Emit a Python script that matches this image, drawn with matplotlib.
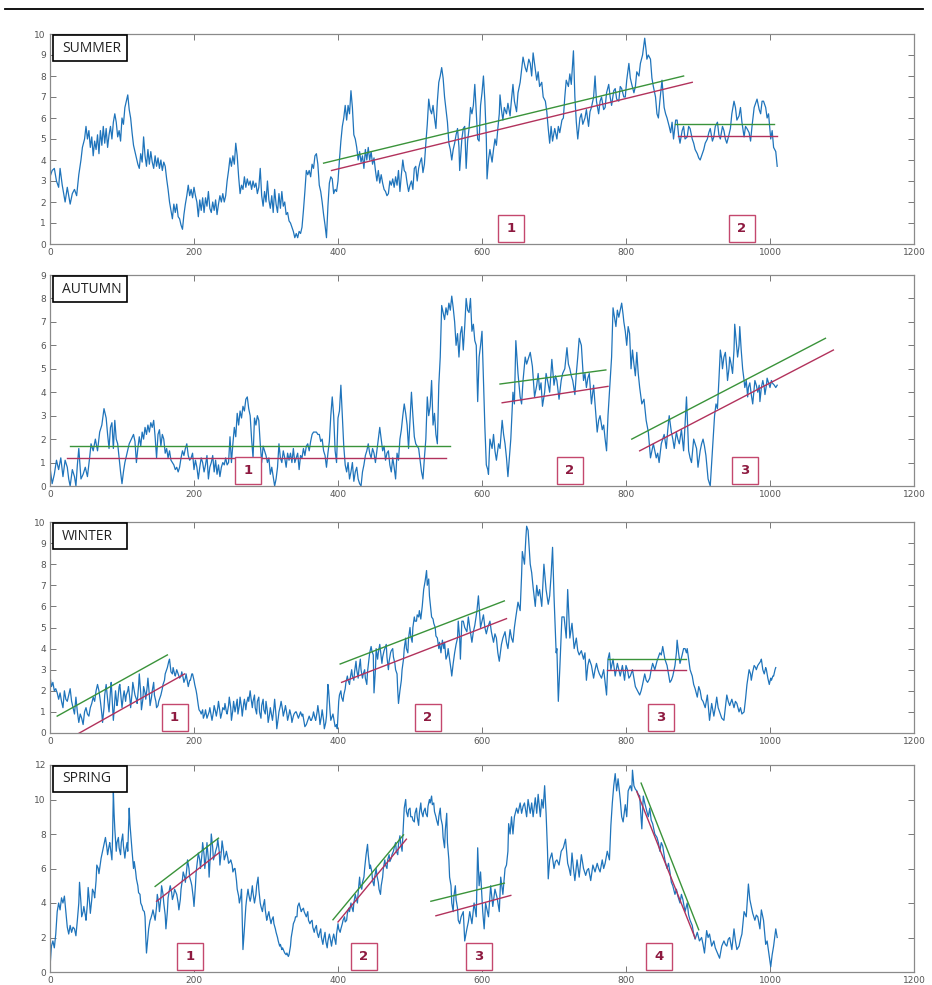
import matplotlib
matplotlib.use("Agg")
import matplotlib.pyplot as plt
from matplotlib.patches import Rectangle
from matplotlib.lines import Line2D
from matplotlib.transforms import blended_transform_factory

# values, (x, y) pairs
summer = [(0,3.2),(3,3.5),(6,3.6),(9,3.0),(12,2.7),(14,3.6),(17,2.8),(21,2.0),(24,2.7),(28,1.9),(31,2.4),(34,2.6),(37,2.3),(40,3.3),(43,4.0),(45,4.6),(48,5.0),(50,5.6),(52,5.0),(54,5.4),(56,4.6),(58,5.1),(60,4.2),(62,4.9),(64,4.5),(66,5.2),(68,4.3),(70,5.4),(72,4.7),(74,5.6),(76,4.8),(78,5.5),(80,4.6),(82,5.2),(84,5.6),(86,5.0),(88,5.8),(90,6.2),(92,5.8),(94,5.1),(96,5.4),(98,4.9),(100,6.0),(102,5.7),(104,6.5),(106,6.8),(108,7.1),(110,6.4),(112,6.0),(114,5.3),(116,4.7),(118,4.4),(120,4.1),(122,3.8),(124,3.6),(126,4.3),(128,3.9),(130,5.1),(132,4.2),(134,3.7),(136,4.5),(138,3.8),(140,4.4),(142,3.9),(144,3.6),(146,4.2),(148,3.7),(150,4.1),(152,3.6),(154,4.0),(156,3.5),(158,3.9),(160,3.7),(162,3.1),(164,2.6),(166,2.0),(168,1.6),(170,1.2),(172,1.9),(174,1.5),(176,1.9),(178,1.3),(180,1.2),(182,0.9),(184,0.7),(186,1.4),(188,1.9),(190,2.3),(192,2.8),(194,2.3),(196,2.6),(198,2.2),(200,2.7),(202,2.3),(204,2.0),(206,1.3),(208,2.1),(210,1.6),(212,2.2),(214,1.5),(216,2.2),(218,1.8),(220,2.5),(222,1.7),(224,1.5),(226,2.0),(228,1.6),(230,2.1),(232,1.4),(234,1.9),(236,2.3),(238,2.0),(240,2.4),(242,2.0),(244,2.3),(246,3.0),(248,3.5),(250,4.1),(252,3.7),(254,4.2),(256,3.8),(258,4.8),(260,4.2),(262,3.2),(264,2.4),(266,2.8),(268,2.6),(270,3.2),(272,2.7),(274,3.1),(276,2.8),(278,3.0),(280,2.6),(282,3.0),(284,2.7),(286,2.9),(288,2.4),(290,2.7),(292,3.6),(294,2.3),(296,1.8),(298,2.5),(300,2.0),(302,3.0),(304,2.1),(306,1.7),(308,2.3),(310,1.5),(312,2.6),(314,1.9),(316,1.5),(318,2.4),(320,1.7),(322,2.5),(324,1.8),(326,2.0),(328,1.4),(330,1.5),(332,1.1),(334,1.0),(336,0.8),(338,0.6),(340,0.3),(342,0.5),(344,0.3),(346,0.6),(348,0.5),(350,0.8),(352,1.6),(354,2.5),(356,3.5),(358,3.3),(360,3.5),(362,3.2),(364,3.8),(366,3.6),(368,4.2),(370,4.3),(372,3.8),(374,2.8),(376,2.5),(378,2.0),(380,1.4),(382,0.9),(384,0.3),(386,1.8),(388,2.9),(390,3.2),(392,3.1),(394,2.4),(396,2.6),(398,2.5),(400,3.0),(402,4.0),(404,4.9),(406,5.6),(408,6.0),(410,6.6),(412,5.9),(414,6.6),(416,6.2),(418,7.3),(420,6.5),(422,5.2),(424,5.0),(426,4.6),(428,4.0),(430,4.4),(432,3.9),(434,4.2),(436,3.6),(438,4.5),(440,4.0),(442,4.6),(444,4.0),(446,4.4),(448,3.8),(450,4.1),(452,3.5),(454,3.0),(456,3.5),(458,2.9),(460,3.3),(462,2.9),(464,2.6),(466,2.5),(468,2.3),(470,2.4),(472,3.0),(474,2.8),(476,3.1),(478,2.7),(480,3.2),(482,2.8),(484,3.5),(486,2.5),(488,3.3),(490,4.0),(492,3.5),(494,3.4),(496,2.9),(498,2.5),(500,2.8),(502,3.0),(504,2.6),(506,3.6),(508,3.7),(510,3.0),(512,3.6),(514,3.9),(516,4.1),(518,3.4),(520,3.8),(522,4.8),(524,5.7),(526,6.9),(528,6.4),(530,6.2),(532,6.6),(534,6.0),(536,5.5),(538,6.8),(540,7.7),(542,8.0),(544,8.4),(546,7.9),(548,7.0),(550,6.4),(552,5.8),(554,4.8),(556,4.5),(558,4.0),(560,4.5),(562,4.8),(564,5.2),(566,5.5),(568,4.6),(569,3.5),(572,5.0),(574,5.5),(576,5.6),(578,3.6),(580,4.9),(582,5.5),(584,6.5),(586,6.2),(588,6.6),(590,7.6),(592,6.3),(594,5.0),(596,4.9),(598,6.6),(600,7.2),(602,8.0),(604,6.8),(606,5.0),(607,3.1),(609,4.0),(611,4.5),(614,3.9),(616,4.5),(618,5.0),(620,4.7),(622,5.5),(624,6.2),(625,7.1),(627,6.4),(629,5.9),(631,6.5),(634,6.2),(636,6.7),(639,6.1),(641,6.9),(643,7.6),(645,6.8),(648,6.3),(650,7.2),(653,7.7),(655,8.3),(657,8.9),(660,8.4),(662,8.2),(665,8.8),(667,8.6),(669,8.0),(671,9.1),(674,8.3),(676,7.8),(678,8.2),(680,7.5),(683,7.7),(685,7.0),(688,6.8),(690,6.3),(692,5.5),(694,4.8),(696,5.6),(698,4.9),(701,5.5),(704,5.0),(706,5.6),(708,5.3),(711,5.9),(713,6.0),(715,7.0),(717,7.8),(720,7.5),(722,8.1),(724,7.6),(727,9.2),(729,7.0),(731,5.8),(733,5.0),(736,6.0),(738,6.2),(740,5.7),(743,6.0),(745,6.4),(748,5.6),(750,6.3),(752,6.5),(755,7.0),(757,8.0),(759,6.8),(762,6.2),(764,6.8),(766,7.0),(769,6.4),(771,6.5),(773,7.2),(776,7.6),(778,7.0),(780,6.6),(783,7.3),(785,7.4),(787,6.9),(790,6.8),(792,7.5),(794,7.4),(797,7.0),(799,7.0),(801,7.8),(804,8.6),(806,7.9),(808,7.6),(811,7.2),(813,7.5),(815,8.2),(818,8.0),(820,8.6),(823,9.0),(826,9.8),(828,9.2),(829,8.8),(831,9.0),(834,8.8),(836,7.9),(838,7.5),(841,7.0),(843,6.2),(845,6.0),(847,6.8),(850,7.8),(853,6.5),(855,6.2),(857,6.0),(860,5.6),(862,5.3),(864,5.8),(866,5.0),(869,5.9),(871,5.9),(873,5.2),(875,4.8),(878,5.4),(880,5.6),(882,5.0),(885,5.1),(887,5.6),(889,5.5),(892,5.0),(894,4.8),(896,4.5),(899,4.3),(901,4.1),(903,4.0),(906,4.3),(908,4.5),(910,4.8),(913,5.0),(915,5.3),(917,5.5),(920,4.9),(922,5.1),(924,5.6),(927,5.8),(929,5.2),(931,5.0),(934,5.6),(936,5.4),(938,5.0),(940,4.8),(943,5.2),(945,5.5),(947,6.2),(950,6.8),(952,6.5),(954,5.9),(957,6.1),(959,6.5),(961,5.8),(964,5.1),(966,5.6),(968,5.5),(971,5.3),(973,4.9),(975,5.6),(978,6.5),(980,6.7),(982,6.9),(985,6.4),(987,6.2),(989,6.8),(991,6.8),(994,6.5),(996,6.0),(998,6.2),(1001,5.0),(1003,5.4),(1005,4.6),(1008,4.4),(1010,3.7)]

autumn = [(0,0.8),(3,0.1),(6,0.5),(9,1.1),(12,0.7),(15,1.2),(18,0.4),(21,1.1),(24,0.8),(26,0.3),(28,0.0),(31,0.7),(34,0.4),(36,0.0),(38,0.9),(40,1.6),(43,0.3),(46,0.5),(49,0.8),(52,0.4),(55,1.2),(57,1.8),(60,1.5),(63,2.0),(66,1.5),(69,2.3),(72,2.6),(75,3.3),(78,2.9),(80,2.2),(82,1.6),(84,2.5),(86,2.7),(88,1.6),(90,2.8),(92,2.0),(94,1.8),(96,1.2),(98,0.6),(100,0.1),(102,0.6),(104,1.0),(107,1.4),(110,1.8),(113,2.0),(116,2.2),(118,1.9),(120,1.0),(122,1.6),(124,2.1),(126,1.7),(128,2.3),(130,2.0),(132,2.5),(134,2.2),(136,2.6),(138,2.3),(140,2.7),(142,2.5),(144,2.8),(146,2.1),(148,1.2),(150,2.2),(152,2.4),(154,1.7),(156,2.2),(158,2.0),(160,1.4),(162,1.6),(164,1.2),(166,1.5),(168,1.1),(170,1.0),(172,0.9),(174,0.7),(176,0.8),(178,0.6),(180,0.8),(182,1.2),(184,1.5),(186,1.3),(188,1.6),(190,1.8),(192,1.3),(194,1.1),(196,1.2),(198,1.4),(200,0.7),(202,1.1),(204,0.8),(206,0.3),(208,0.8),(210,1.2),(212,1.0),(214,0.6),(216,0.9),(218,1.3),(220,0.3),(222,0.8),(224,1.0),(226,1.3),(228,0.6),(230,1.1),(232,0.5),(234,0.9),(236,0.4),(238,0.8),(240,1.0),(242,0.9),(244,1.2),(246,0.9),(248,1.0),(250,2.1),(252,1.0),(254,1.8),(256,2.5),(258,2.1),(260,3.1),(262,2.6),(264,3.2),(266,2.9),(268,3.4),(270,3.2),(272,3.7),(274,3.8),(276,3.3),(278,3.0),(280,2.0),(282,1.2),(284,2.9),(286,2.6),(288,3.0),(290,2.8),(292,1.8),(294,1.0),(296,1.7),(298,1.5),(300,1.3),(302,1.0),(304,1.2),(306,0.5),(308,0.8),(310,0.4),(312,0.0),(314,0.3),(316,0.8),(318,1.8),(320,1.2),(322,1.0),(324,1.5),(326,1.2),(328,0.8),(330,1.4),(332,1.1),(334,1.4),(336,1.0),(338,1.6),(340,1.0),(342,1.2),(344,1.4),(346,0.7),(348,1.3),(350,1.2),(352,1.6),(354,1.3),(356,1.7),(358,1.8),(360,1.5),(362,1.9),(364,2.2),(366,2.3),(368,2.3),(370,2.3),(372,2.2),(374,2.2),(376,1.9),(378,2.0),(380,1.5),(382,1.3),(384,0.8),(386,1.4),(388,1.9),(390,3.0),(392,3.8),(394,3.0),(396,1.5),(398,1.0),(400,2.9),(402,3.2),(404,4.3),(406,3.0),(408,1.7),(410,0.9),(412,0.6),(414,1.0),(416,0.3),(418,0.6),(420,1.0),(422,0.2),(424,0.6),(426,0.8),(428,0.3),(430,0.1),(432,0.0),(434,0.6),(436,0.9),(438,1.3),(440,1.5),(442,1.8),(444,1.4),(446,1.2),(448,1.6),(450,1.4),(452,1.0),(454,1.5),(456,2.0),(458,2.5),(460,2.0),(462,1.5),(464,1.7),(466,1.1),(468,1.4),(470,1.5),(472,0.9),(474,0.6),(476,1.2),(478,0.8),(480,0.3),(482,1.4),(484,1.1),(486,2.0),(488,2.4),(490,3.0),(492,3.5),(494,3.1),(496,2.6),(498,1.6),(500,2.8),(502,4.0),(504,3.0),(506,2.1),(508,1.8),(510,1.7),(512,1.6),(514,1.1),(516,0.6),(518,0.3),(520,1.2),(522,2.0),(524,3.8),(526,3.0),(528,3.4),(530,4.5),(532,2.6),(534,3.1),(536,2.2),(538,1.8),(540,4.3),(542,5.5),(544,7.7),(546,7.4),(548,7.1),(550,7.6),(552,7.3),(554,7.8),(556,7.5),(558,8.1),(560,7.6),(562,7.0),(564,6.0),(566,6.5),(568,5.5),(570,6.5),(572,6.8),(574,5.8),(576,6.8),(578,8.0),(580,7.5),(582,7.4),(584,8.0),(586,6.6),(588,6.9),(590,6.2),(592,6.0),(594,3.6),(596,5.5),(598,6.0),(600,6.6),(602,4.5),(604,2.5),(606,0.9),(608,0.7),(609,0.5),(611,2.0),(614,1.6),(616,2.2),(618,1.5),(620,1.1),(623,1.8),(625,1.6),(628,2.8),(630,2.2),(632,1.8),(634,1.2),(636,0.4),(638,1.2),(640,2.0),(643,4.0),(645,3.5),(647,6.2),(650,4.8),(653,3.8),(655,3.5),(657,4.5),(660,5.5),(662,5.2),(664,5.4),(667,5.7),(670,5.1),(673,3.8),(676,4.3),(678,4.8),(680,4.1),(682,4.4),(684,3.4),(687,4.0),(689,4.8),(691,4.5),(694,4.0),(697,5.4),(700,4.3),(702,4.7),(704,4.5),(707,3.7),(710,4.5),(712,4.8),(715,5.0),(718,5.9),(720,5.2),(722,5.0),(724,4.7),(726,4.5),(729,3.9),(731,4.8),(733,5.5),(735,6.3),(738,6.0),(740,5.0),(741,4.5),(743,4.8),(745,4.2),(747,4.6),(749,4.8),(752,3.5),(755,4.3),(757,3.5),(760,2.3),(762,2.8),(764,3.0),(767,2.4),(769,2.6),(771,2.0),(773,1.5),(775,3.0),(778,4.5),(780,5.5),(782,7.6),(784,7.2),(786,6.8),(788,7.5),(790,7.2),(792,7.5),(794,7.8),(796,7.3),(797,7.0),(799,6.6),(801,6.0),(803,6.8),(805,6.5),(807,5.0),(809,5.8),(811,5.2),(813,4.7),(815,5.7),(817,4.8),(819,4.2),(822,3.5),(825,3.7),(828,2.8),(831,2.3),(834,1.2),(836,1.5),(838,1.8),(840,1.5),(842,1.2),(844,1.4),(846,1.0),(849,1.8),(851,2.0),(853,2.2),(856,1.6),(858,2.4),(860,3.0),(863,2.3),(865,2.0),(867,1.6),(870,2.3),(872,2.0),(874,1.8),(877,2.4),(880,1.5),(882,2.6),(884,3.8),(887,1.5),(889,1.2),(891,1.0),(894,2.0),(896,1.8),(898,1.6),(900,0.8),(903,1.5),(905,1.8),(907,2.0),(909,1.7),(911,1.3),(914,0.3),(917,0.0),(920,1.5),(923,3.0),(925,3.5),(927,3.3),(929,4.5),(931,5.8),(933,5.4),(934,5.0),(936,5.5),(938,5.7),(940,5.0),(941,4.5),(943,5.0),(944,5.5),(946,5.2),(948,4.8),(950,5.8),(951,6.9),(953,6.2),(955,5.5),(957,6.0),(958,6.8),(960,5.8),(962,5.0),(964,4.5),(965,4.2),(967,4.5),(969,3.8),(970,4.2),(972,4.4),(974,3.9),(976,3.5),(978,4.2),(979,4.5),(981,4.3),(983,4.0),(985,4.3),(986,3.6),(988,4.2),(990,4.5),(992,4.2),(993,3.9),(995,4.3),(996,4.6),(998,4.4),(1000,4.2),(1002,4.5),(1003,4.4),(1006,4.3),(1008,4.2),(1010,4.3)]

winter = [(0,2.7),(2,2.2),(4,2.4),(6,2.0),(8,2.1),(10,1.9),(12,1.6),(14,1.9),(16,1.5),(18,1.2),(20,2.0),(22,1.6),(24,1.5),(26,1.8),(28,2.1),(30,1.5),(32,1.2),(34,0.9),(36,1.7),(38,1.0),(40,0.5),(42,0.9),(44,0.7),(46,0.4),(48,1.0),(50,1.2),(52,0.9),(54,0.8),(56,1.2),(58,1.4),(60,1.7),(62,1.5),(64,2.0),(66,2.3),(68,2.0),(70,1.5),(72,0.9),(73,0.5),(75,1.2),(76,1.8),(78,2.3),(80,1.6),(82,1.0),(84,2.0),(85,2.4),(87,1.2),(88,0.6),(90,1.5),(91,2.0),(93,1.3),(94,1.5),(96,2.2),(97,2.3),(99,1.6),(100,1.2),(102,1.8),(103,2.0),(105,1.5),(106,1.8),(108,2.0),(109,2.2),(111,1.6),(112,1.2),(114,1.9),(115,2.4),(117,2.0),(118,1.8),(120,1.6),(121,1.4),(123,2.2),(124,2.8),(126,1.9),(127,1.1),(129,1.6),(130,2.2),(132,1.9),(133,1.6),(135,2.2),(136,2.6),(138,1.8),(139,1.3),(141,1.7),(142,2.0),(144,2.4),(145,1.8),(147,1.5),(148,1.2),(150,1.3),(151,1.5),(153,1.7),(154,1.8),(156,2.1),(157,2.3),(159,2.5),(160,2.8),(162,3.0),(163,3.1),(165,3.4),(166,3.5),(168,2.9),(170,2.8),(171,3.1),(173,2.8),(174,2.7),(176,3.0),(177,2.9),(179,2.7),(180,2.6),(182,2.7),(183,2.9),(185,2.6),(186,2.4),(188,2.6),(189,2.8),(191,2.4),(192,2.2),(194,2.5),(195,2.5),(197,2.8),(198,2.8),(200,2.5),(201,2.3),(203,2.0),(204,1.8),(206,1.3),(207,1.1),(209,1.0),(210,0.9),(212,1.1),(213,0.7),(215,0.9),(216,1.1),(218,0.7),(219,0.8),(221,1.0),(222,1.2),(224,0.8),(225,0.6),(227,1.0),(228,1.3),(230,1.0),(231,0.8),(233,1.2),(234,1.5),(236,1.0),(237,0.7),(239,1.0),(240,1.2),(242,1.1),(243,1.4),(245,1.0),(246,0.9),(248,1.3),(249,1.7),(251,1.2),(252,0.6),(254,1.1),(255,1.5),(257,1.0),(258,1.2),(260,1.6),(261,0.9),(263,1.3),(264,1.7),(266,1.2),(267,0.8),(269,1.4),(270,1.6),(272,1.1),(273,1.4),(275,1.7),(276,1.5),(278,2.0),(279,1.7),(281,1.2),(282,1.5),(284,1.8),(285,1.2),(287,0.9),(288,1.5),(290,1.7),(291,1.0),(293,0.7),(294,1.3),(296,1.6),(297,1.1),(299,0.9),(300,1.5),(302,1.0),(303,0.5),(305,0.9),(306,1.2),(308,0.8),(309,0.6),(311,1.2),(312,1.6),(314,0.8),(315,0.2),(317,0.7),(318,1.0),(320,1.3),(321,1.5),(323,1.1),(324,0.8),(326,1.1),(327,1.3),(329,0.9),(330,0.6),(332,0.9),(333,1.1),(335,0.8),(336,0.5),(338,0.8),(339,0.9),(341,1.0),(342,1.0),(344,0.8),(345,0.7),(347,0.9),(348,1.0),(350,0.8),(351,0.9),(353,0.5),(354,0.3),(356,0.4),(357,0.5),(359,0.7),(360,0.8),(362,0.6),(363,0.6),(365,0.8),(366,1.0),(368,0.7),(369,0.6),(371,1.0),(372,1.3),(374,0.8),(375,0.4),(377,0.8),(378,1.1),(380,0.6),(381,0.2),(383,0.5),(384,0.8),(386,2.3),(387,2.0),(389,1.0),(390,0.6),(392,0.8),(393,0.9),(395,0.5),(396,0.3),(398,0.4),(399,0.2),(401,1.5),(402,1.8),(404,2.0),(405,1.7),(407,1.5),(408,1.8),(410,2.1),(411,2.4),(413,2.7),(414,2.5),(416,2.3),(417,2.6),(419,3.0),(420,2.7),(422,2.5),(423,2.9),(425,3.4),(426,3.0),(428,2.6),(429,3.0),(431,3.5),(432,3.0),(434,2.6),(435,2.8),(437,3.0),(438,2.6),(440,2.3),(441,2.9),(443,3.5),(444,3.8),(446,4.1),(447,3.9),(449,3.7),(450,1.9),(452,3.0),(453,4.0),(455,3.5),(456,3.8),(458,4.2),(459,3.9),(461,3.3),(462,3.6),(464,3.9),(465,4.0),(467,4.2),(468,3.6),(470,3.0),(471,3.4),(473,3.8),(474,3.9),(476,4.0),(477,3.6),(479,3.3),(480,3.0),(482,2.8),(483,2.0),(484,1.4),(486,2.0),(488,2.5),(489,3.0),(491,3.5),(492,4.0),(494,4.5),(495,4.0),(497,3.8),(498,4.5),(500,5.0),(501,4.6),(503,4.3),(504,5.0),(506,5.5),(507,5.3),(509,5.3),(510,5.6),(512,5.5),(513,5.8),(515,5.4),(517,6.0),(519,6.8),(521,7.2),(523,7.7),(524,7.0),(526,7.3),(527,6.5),(529,5.8),(530,5.5),(532,5.4),(533,5.2),(535,5.0),(536,4.6),(538,4.5),(540,4.0),(541,4.3),(543,3.8),(545,4.4),(547,4.0),(548,4.3),(550,3.5),(552,3.7),(553,4.0),(555,3.5),(557,3.0),(558,2.7),(560,3.3),(562,3.8),(564,4.2),(566,4.5),(567,5.3),(569,4.5),(570,3.5),(572,5.3),(574,5.3),(576,5.0),(579,4.8),(581,5.5),(583,5.0),(586,4.3),(588,4.8),(590,5.1),(593,5.8),(595,6.5),(598,5.0),(600,5.3),(602,5.6),(604,5.0),(606,4.7),(608,5.0),(611,5.3),(613,4.8),(616,4.3),(618,4.7),(620,4.5),(622,3.8),(624,3.4),(627,4.2),(629,4.5),(632,4.8),(634,4.3),(636,4.0),(639,4.9),(641,4.5),(643,4.3),(645,5.0),(647,5.5),(650,6.2),(653,5.8),(655,7.5),(656,8.6),(659,8.0),(661,9.3),(662,9.8),(664,9.6),(667,8.0),(669,7.6),(671,6.9),(674,6.0),(676,7.0),(678,6.5),(680,6.8),(683,6.0),(686,8.0),(689,6.8),(692,6.1),(694,6.5),(696,7.5),(698,8.8),(700,6.5),(703,3.8),(704,4.0),(706,1.5),(708,3.0),(711,5.5),(714,5.5),(717,4.5),(719,6.8),(722,4.5),(725,5.2),(728,4.0),(731,4.5),(733,3.9),(735,3.7),(738,3.9),(741,3.5),(743,3.8),(745,2.5),(747,3.2),(749,3.5),(752,3.2),(755,2.6),(757,3.0),(759,3.3),(761,3.0),(763,2.8),(766,2.6),(769,3.0),(771,2.4),(773,1.8),(775,3.5),(777,3.8),(779,3.0),(782,3.5),(785,2.7),(788,3.3),(790,3.0),(792,2.7),(795,3.2),(798,2.5),(800,3.2),(802,3.0),(804,2.6),(806,2.7),(809,3.0),(811,2.6),(813,2.2),(816,2.0),(819,1.8),(821,2.0),(823,2.3),(826,2.8),(828,2.5),(830,2.4),(833,2.6),(835,3.0),(837,3.3),(840,3.0),(843,3.4),(845,3.6),(847,3.8),(849,3.7),(851,4.1),(854,3.5),(857,3.2),(859,2.8),(861,2.4),(863,2.5),(865,2.7),(868,3.2),(870,3.8),(871,4.4),(873,3.8),(875,3.3),(878,3.7),(880,4.0),(882,4.0),(884,3.8),(885,4.0),(887,3.5),(889,3.0),(892,2.7),(894,2.3),(896,2.1),(899,1.7),(901,2.2),(903,2.0),(905,1.6),(907,1.5),(910,1.2),(913,1.8),(916,0.6),(919,1.4),(922,0.8),(924,1.2),(926,1.7),(928,1.2),(930,1.0),(933,0.7),(936,0.6),(938,1.2),(940,1.8),(942,1.5),(944,1.3),(947,1.6),(950,1.2),(952,1.5),(954,1.4),(957,1.0),(959,1.2),(961,0.9),(964,1.0),(966,1.6),(968,2.3),(971,3.0),(973,2.8),(974,2.5),(976,2.9),(978,3.2),(980,3.1),(981,3.0),(983,3.2),(985,3.3),(987,3.4),(988,3.5),(990,3.0),(992,2.8),(994,3.1),(995,3.0),(997,2.6),(999,2.3),(1001,2.6),(1002,2.5),(1004,2.7),(1005,2.7),(1007,3.0),(1008,3.1)]

spring = [(0,0.3),(2,1.5),(4,1.8),(6,1.4),(8,2.2),(10,3.5),(12,4.0),(14,3.6),(16,4.3),(18,4.0),(20,4.4),(22,3.5),(24,2.6),(26,2.2),(28,2.7),(30,2.3),(32,2.6),(34,2.5),(36,2.1),(38,3.0),(40,4.0),(41,5.2),(43,4.0),(44,3.2),(46,3.5),(47,3.8),(49,3.3),(50,3.0),(52,4.0),(53,4.9),(55,4.0),(56,3.4),(58,4.2),(59,4.8),(61,4.6),(62,4.3),(64,5.3),(65,6.2),(67,6.0),(68,5.7),(70,6.3),(71,6.6),(73,7.0),(74,7.2),(76,7.6),(77,7.8),(79,7.2),(80,6.8),(82,7.3),(83,7.5),(85,6.8),(86,6.5),(87,8.0),(88,10.5),(89,9.2),(90,8.3),(92,7.0),(93,7.5),(95,7.8),(96,7.2),(98,6.8),(99,7.5),(101,8.0),(102,7.3),(104,6.6),(105,7.0),(107,7.5),(108,7.0),(110,9.5),(111,8.6),(113,7.5),(114,7.0),(116,6.0),(117,6.4),(119,5.8),(120,5.4),(122,5.0),(123,4.6),(125,4.5),(126,4.0),(128,3.8),(129,3.6),(131,3.5),(132,3.2),(133,2.0),(134,1.1),(136,2.0),(137,2.5),(139,3.0),(140,3.1),(142,3.4),(143,3.6),(145,3.2),(146,3.0),(148,3.8),(149,4.5),(151,4.0),(152,3.5),(154,4.3),(155,5.0),(157,4.5),(158,4.0),(160,3.3),(161,2.5),(163,3.5),(164,4.3),(166,4.8),(167,5.0),(169,4.6),(170,4.2),(172,4.5),(173,4.8),(175,4.6),(176,4.5),(178,4.0),(179,3.6),(181,4.2),(182,4.8),(184,5.4),(185,5.8),(187,5.5),(188,5.2),(190,6.0),(191,6.5),(193,6.0),(194,5.5),(196,5.2),(197,5.0),(199,4.3),(200,3.8),(202,5.0),(203,5.8),(205,6.5),(206,6.9),(208,6.5),(209,6.0),(211,6.8),(212,7.5),(214,6.8),(215,6.0),(217,6.8),(218,7.5),(220,6.5),(221,5.5),(223,7.0),(224,8.0),(226,7.2),(227,6.5),(229,6.8),(230,7.0),(232,7.3),(233,7.7),(235,7.0),(236,6.2),(238,7.0),(239,7.6),(241,7.0),(242,6.5),(244,6.8),(245,7.0),(247,6.6),(248,6.3),(250,6.4),(251,6.5),(253,6.2),(254,5.8),(256,6.0),(257,6.0),(259,5.3),(260,4.8),(262,4.4),(263,4.0),(265,4.4),(266,4.8),(267,3.0),(268,1.3),(270,2.5),(272,3.8),(273,4.2),(275,4.8),(276,4.5),(278,4.1),(279,4.3),(281,5.0),(282,4.6),(284,4.0),(286,4.5),(287,5.0),(289,5.5),(290,4.8),(292,4.0),(293,3.8),(295,3.5),(296,3.8),(298,4.2),(299,3.6),(301,3.0),(302,3.2),(304,3.5),(305,3.2),(307,2.8),(308,3.0),(310,3.2),(311,2.8),(313,2.5),(314,2.3),(316,2.0),(317,1.8),(319,1.5),(320,1.6),(322,1.3),(323,1.4),(325,1.2),(326,1.1),(328,1.0),(329,1.1),(331,0.9),(332,1.0),(334,1.5),(335,2.0),(337,2.5),(338,2.8),(340,3.0),(341,3.2),(343,3.2),(344,3.8),(346,4.0),(347,3.8),(349,3.5),(350,3.6),(352,3.7),(353,3.5),(355,3.3),(356,3.2),(358,3.5),(359,3.0),(361,2.8),(362,2.9),(364,3.0),(365,2.6),(367,2.3),(368,2.5),(370,2.7),(371,2.3),(373,2.0),(374,2.2),(376,2.5),(377,2.0),(379,1.6),(380,1.9),(382,2.3),(383,1.8),(385,1.4),(386,1.8),(388,2.2),(389,2.0),(391,1.5),(392,1.8),(394,2.2),(395,2.0),(397,1.6),(398,2.2),(400,2.8),(401,2.5),(403,2.3),(404,2.5),(406,2.8),(407,3.0),(409,3.2),(410,2.9),(412,3.0),(413,3.4),(415,3.7),(416,3.5),(418,4.0),(419,3.8),(421,3.5),(422,4.0),(424,4.5),(425,4.3),(427,4.0),(428,4.6),(430,5.5),(431,5.0),(433,4.8),(434,5.2),(436,5.5),(437,6.0),(439,6.8),(441,7.4),(442,6.8),(444,6.0),(445,6.2),(447,5.8),(448,5.3),(450,5.0),(451,5.5),(453,6.0),(454,5.6),(456,5.2),(457,4.8),(459,4.5),(460,5.0),(462,5.5),(463,6.0),(465,6.5),(466,6.2),(468,6.0),(469,6.5),(471,6.8),(472,6.4),(474,6.6),(475,6.8),(477,7.0),(478,7.2),(480,7.5),(481,7.0),(483,6.8),(484,7.4),(486,7.9),(487,7.5),(489,7.0),(490,7.8),(492,9.5),(494,10.0),(495,9.3),(497,9.0),(498,9.4),(500,9.5),(501,9.0),(503,9.0),(504,8.8),(506,8.7),(507,9.2),(509,9.5),(510,9.0),(512,8.5),(513,9.2),(515,9.8),(516,9.3),(518,9.0),(519,9.3),(521,9.5),(522,9.2),(524,9.0),(525,9.6),(527,10.0),(528,9.8),(530,10.2),(531,9.7),(533,9.8),(534,9.3),(536,9.0),(537,8.8),(539,8.5),(540,9.0),(542,9.5),(543,8.9),(545,8.5),(546,7.8),(548,7.2),(549,8.2),(551,9.2),(552,7.5),(554,6.5),(555,5.5),(557,5.0),(558,4.0),(560,3.5),(561,4.4),(563,5.0),(564,4.2),(566,3.7),(567,3.0),(569,2.8),(571,3.2),(574,3.5),(576,1.8),(579,2.5),(581,2.9),(583,3.5),(586,2.8),(589,4.0),(592,3.2),(594,7.2),(596,5.0),(598,5.8),(601,3.5),(603,2.5),(605,4.0),(607,3.6),(609,3.2),(612,5.0),(615,3.8),(618,4.8),(621,4.3),(624,3.5),(626,5.5),(629,4.5),(632,6.0),(634,6.2),(636,7.0),(637,8.6),(639,8.0),(641,9.0),(643,8.0),(645,9.0),(648,9.5),(650,9.2),(653,9.8),(655,9.2),(657,9.6),(659,9.8),(662,9.0),(664,10.0),(667,9.2),(669,9.8),(671,9.0),(674,10.1),(676,9.2),(678,10.3),(681,9.0),(683,10.0),(685,9.5),(687,10.8),(689,9.2),(691,7.0),(692,5.4),(694,6.5),(697,6.9),(700,6.0),(702,6.4),(704,6.5),(707,6.2),(710,7.0),(713,7.2),(716,7.7),(719,6.3),(721,6.0),(723,5.6),(725,6.9),(727,6.0),(729,5.3),(732,6.5),(735,5.5),(738,6.8),(741,6.0),(744,5.6),(746,5.9),(748,6.0),(751,5.3),(754,6.2),(757,5.8),(760,6.3),(762,6.0),(764,5.8),(767,6.5),(769,6.0),(771,6.3),(774,7.0),(777,6.5),(779,8.5),(781,9.8),(783,10.8),(785,11.5),(787,10.5),(789,11.2),(792,10.0),(794,9.0),(796,8.7),(799,9.7),(801,9.0),(803,10.5),(806,10.8),(808,10.5),(809,11.7),(811,10.8),(813,10.6),(815,10.5),(817,10.3),(819,10.2),(820,9.5),(822,8.3),(824,10.2),(826,9.8),(829,9.3),(831,9.0),(833,9.5),(835,8.8),(837,8.6),(840,8.0),(843,7.8),(845,7.5),(847,7.0),(849,7.5),(851,7.3),(854,6.5),(857,6.0),(859,6.3),(861,5.8),(863,5.2),(865,5.0),(868,4.5),(870,4.8),(872,4.4),(875,4.0),(877,4.5),(879,4.2),(882,3.5),(885,4.0),(887,3.3),(889,3.0),(892,2.7),(894,2.2),(896,1.9),(899,2.3),(902,1.8),(905,2.0),(907,1.6),(909,1.1),(912,2.4),(914,2.0),(916,2.2),(919,1.5),(922,1.8),(924,1.4),(926,1.2),(928,1.0),(930,0.8),(933,1.5),(936,1.8),(938,1.6),(940,1.5),(942,1.9),(944,2.0),(947,1.3),(950,2.5),(952,1.8),(954,1.3),(957,1.5),(959,1.9),(961,2.2),(964,3.5),(967,3.2),(970,5.1),(972,4.2),(974,3.8),(976,3.4),(979,3.0),(981,3.3),(983,3.2),(986,2.5),(988,3.6),(991,3.0),(994,1.6),(996,1.8),(998,1.2),(1001,0.3),(1003,1.0),(1005,1.5),(1008,2.5),(1010,2.0)]

# trend lines (x0, y0, x1, y1): upper (green) and lower (red)
summer_green = [(380, 3.85, 880, 8.0), (868, 5.7, 1005, 5.7)]
summer_red = [(391, 3.5, 892, 7.7), (872, 5.15, 1010, 5.15)]
autumn_green = [(28, 1.7, 556, 1.7), (625, 4.35, 772, 4.95), (808, 2.0, 1077, 6.3)]
autumn_red = [(23, 1.2, 550, 1.2), (628, 3.55, 775, 4.25), (819, 1.5, 1088, 5.8)]
winter_green = [(10, 0.8, 163, 3.7), (403, 3.27, 631, 6.26), (775, 3.5, 884, 3.5)]
winter_red = [(33, -0.15, 187, 2.8), (405, 2.4, 634, 5.42), (773, 3.0, 884, 3.0)]
spring_green = [(146, 4.96, 234, 7.76), (393, 3.03, 491, 7.95), (529, 4.1, 631, 5.15), (821, 10.95, 901, 2.45)]
spring_red = [(148, 4.1, 236, 6.95), (400, 2.9, 495, 7.7), (536, 3.26, 640, 4.44), (815, 10.46, 896, 1.97)]

# numbered boxes, x centre of each
summer_marks = [640, 961]
autumn_marks = [275, 722, 965]
winter_marks = [173, 525, 848]
spring_marks = [195, 436, 596, 846]

names = ["SUMMER", "AUTUMN", "WINTER", "SPRING"]
ymaxes = [10, 9, 10, 12]
ysteps = [1, 1, 1, 2]

BLUE = "#1f74bb"
GREEN = "#3a933a"
RED = "#b2325c"
BOX = "#c4486e"
NUM = "#8e1a40"

fig = plt.figure(figsize=(9.32, 9.85), dpi=100)
fig.add_artist(Line2D([0.005, 0.99], [1 - 8.5 / 985] * 2, color="black", lw=1.3))

# axes boxes in pixels: top, bottom
rows = [(34, 244), (275, 486), (522, 733), (765, 972)]
datasets = [summer, autumn, winter, spring]
greens = [summer_green, autumn_green, winter_green, spring_green]
reds = [summer_red, autumn_red, winter_red, spring_red]
marks = [summer_marks, autumn_marks, winter_marks, spring_marks]

W, H = 932, 985
left_px, right_px = 50, 914

for i in range(4):
    top, bot = rows[i]
    hpx = bot - top
    ax = fig.add_axes([left_px / W, 1 - bot / H, (right_px - left_px) / W, hpx / H])
    xs, ys = zip(*datasets[i])
    ax.plot(xs, ys, color=BLUE, lw=0.9)
    for x0, y0, x1, y1 in greens[i]:
        ax.plot([x0, x1], [y0, y1], color=GREEN, lw=1.0)
    for x0, y0, x1, y1 in reds[i]:
        ax.plot([x0, x1], [y0, y1], color=RED, lw=1.0)

    ax.set_xlim(0, 1200)
    ax.set_ylim(0, ymaxes[i])
    ax.set_xticks(range(0, 1201, 200))
    ax.set_yticks(range(0, ymaxes[i] + 1, ysteps[i]))
    ax.tick_params(direction="in", top=True, right=True, length=4, width=0.7,
                   color="#777777", labelsize=6.5, labelcolor="#555555", pad=3)
    for s in ax.spines.values():
        s.set_color("#8a8a8a")
        s.set_linewidth(0.9)

    # season label box
    wpx = right_px - left_px
    ax.add_patch(Rectangle((3 / wpx, 1 - 27 / hpx), 74 / wpx, 26 / hpx, transform=ax.transAxes,
                           facecolor="white", edgecolor="black", lw=1.2, zorder=5))
    ax.text(12 / wpx, 1 - 14 / hpx, names[i], transform=ax.transAxes, fontsize=10,
            family="Open Sans", color="#222222", va="center", ha="left", zorder=6)

    # numbered boxes
    tr = blended_transform_factory(ax.transData, ax.transAxes)
    for k, cx in enumerate(marks[i]):
        ax.add_patch(Rectangle((cx - 18, 2 / hpx), 36, 27 / hpx, transform=tr,
                               facecolor="white", edgecolor=BOX, lw=1.0, zorder=5))
        ax.text(cx, (2 + 13.5) / hpx, str(k + 1), transform=tr, fontsize=9.5,
                fontweight="bold", color=NUM, ha="center", va="center", zorder=6)

fig.savefig("out.png", dpi=100)
